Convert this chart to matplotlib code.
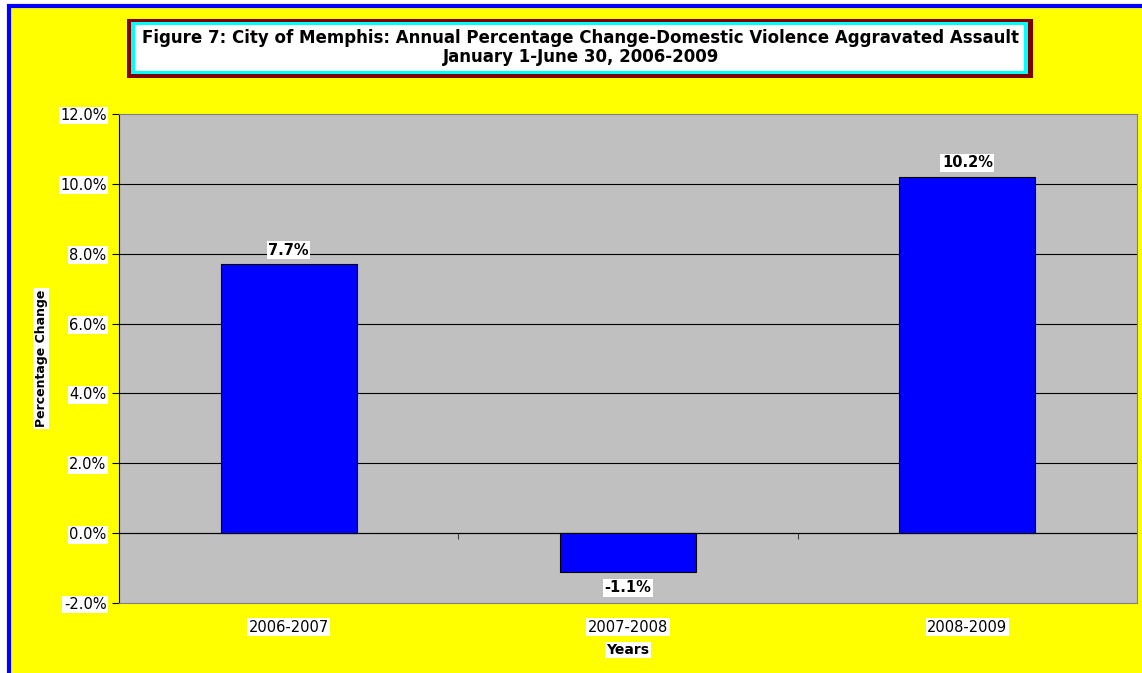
"""Annual percentage change bar chart, Memphis DV aggravated assault."""

import matplotlib
matplotlib.use('Agg')
import matplotlib.pyplot as plt
from matplotlib.patches import Rectangle

# data
periods = ['2006-2007', '2007-2008', '2008-2009']
pct_change = [7.7, -1.1, 10.2]
ytick_vals = [-2, 0, 2, 4, 6, 8, 10, 12]
ytick_labels = ['-2.0%', '0.0%', '2.0%', '4.0%', '6.0%', '8.0%', '10.0%', '12.0%']
title_lines = ['Figure 7: City of Memphis: Annual Percentage Change-Domestic Violence Aggravated Assault',
               'January 1-June 30, 2006-2009']

plt.rcParams['font.family'] = ['DejaVu Sans']

W, H = 1142, 673
fig = plt.figure(figsize=(W / 100, H / 100), dpi=100, facecolor='white')


def px_rect(x0, y0, x1, y1, **kw):
    """rectangle given in pixel coords (origin top-left)."""
    return Rectangle((x0 / W, 1 - y1 / H), (x1 - x0) / W, (y1 - y0) / H,
                     transform=fig.transFigure, zorder=-10, **kw)


# yellow background with blue border (top/left visible)
fig.patches.append(px_rect(9, 5.7, W + 20, H + 20, facecolor='#FFFF00',
                           edgecolor='#0000FF', linewidth=3.0))

# title box: dark red / cyan / white
fig.patches.append(px_rect(127, 19, 1033, 78, facecolor='#800000', edgecolor='none'))
fig.patches.append(px_rect(131, 22, 1028, 74, facecolor='#00FFFF', edgecolor='none'))
fig.patches.append(px_rect(135, 25, 1024, 71, facecolor='white', edgecolor='none'))
fig.text(581 / W, 1 - 38 / H, title_lines[0], ha='center', va='center',
         fontsize=12, fontweight='bold')
fig.text(581 / W, 1 - 57 / H, title_lines[1], ha='center', va='center',
         fontsize=12, fontweight='bold')

# plot area
ax = fig.add_axes([119 / W, 1 - 603 / H, 1018 / W, 489 / H])
ax.set_facecolor('#C0C0C0')
ax.set_xlim(-0.5, 2.5)
ax.set_ylim(-2, 12)

x = list(range(len(periods)))
bars = ax.bar(x, pct_change, width=0.4, color='#0000FF', edgecolor='black',
              linewidth=0.8, zorder=3)

for gy in ytick_vals[1:-1]:
    ax.axhline(gy, color='black', linewidth=0.8, zorder=1)

for b, v in zip(bars, pct_change):
    off = 14 if v >= 0 else -16
    ax.annotate(f'{v:.1f}%', (b.get_x() + b.get_width() / 2, v),
                xytext=(0, off), textcoords='offset pixels',
                ha='center', va='center', fontsize=10.5, fontweight='bold',
                bbox=dict(facecolor='white', edgecolor='none', pad=1), zorder=4)

# axes styling
for side in ['top', 'right', 'bottom']:
    ax.spines[side].set_color('#808080')
ax.spines['left'].set_color('black')

ax.set_yticks(ytick_vals)
ax.set_yticklabels(ytick_labels, fontsize=10.5)
ax.tick_params(axis='y', direction='out', length=5, width=0.8, pad=4)
for lbl in ax.get_yticklabels():
    lbl.set_bbox(dict(facecolor='white', edgecolor='none', pad=1))

ax.set_xticks(x)
ax.set_xticklabels(periods, fontsize=10.5)
ax.tick_params(axis='x', length=0, pad=12)
for lbl in ax.get_xticklabels():
    lbl.set_bbox(dict(facecolor='white', edgecolor='none', pad=1))

# category axis crossing at zero, ticks between categories
sec = ax.secondary_xaxis(2 / 14)
sec.set_xticks([0.5, 1.5])
sec.set_xticklabels([])
sec.tick_params(direction='out', length=4, width=0.8, color='#404040')
sec.spines['bottom'].set_color('black')

ax.set_ylabel('Percentage Change', fontsize=9, fontweight='bold', labelpad=9,
              bbox=dict(facecolor='white', edgecolor='none', pad=1))
ax.set_xlabel('Years', fontsize=10, fontweight='bold', labelpad=6,
              bbox=dict(facecolor='white', edgecolor='none', pad=1))

fig.savefig('out.png', dpi=100, facecolor=fig.get_facecolor())
